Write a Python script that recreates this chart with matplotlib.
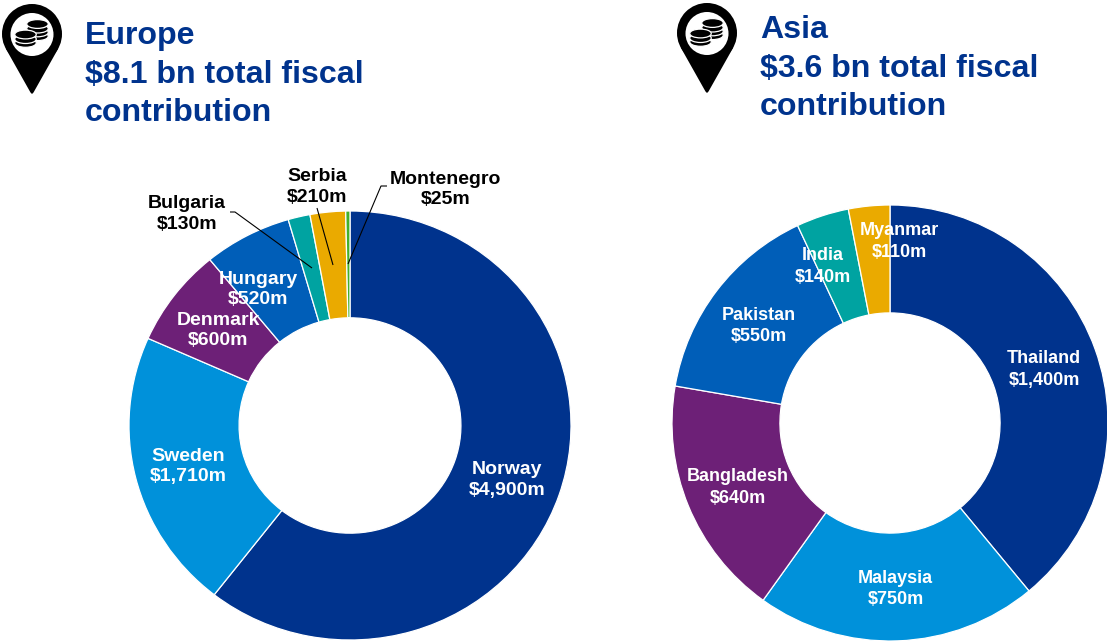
import matplotlib
matplotlib.use("Agg")
import matplotlib.pyplot as plt
from matplotlib.patches import Circle, Ellipse, Polygon

plt.rcParams['font.family'] = ['Liberation Sans', 'DejaVu Sans']

W, H = 1107, 641

# Data
europe_names = ["Norway", "Sweden", "Denmark", "Hungary", "Bulgaria", "Serbia", "Montenegro"]
europe_values = [4900, 1710, 600, 520, 130, 210, 25]
asia_names = ["Thailand", "Malaysia", "Bangladesh", "Pakistan", "India", "Myanmar"]
asia_values = [1400, 750, 640, 550, 140, 110]
europe_title = "Europe\n$8.1 bn total fiscal\ncontribution"
asia_title = "Asia\n$3.6 bn total fiscal\ncontribution"

# Styles and positions
europe_colors = ["#00338D", "#0091DA", "#6D2077", "#005EB8", "#00A3A1", "#EAAA00", "#43B02A"]
asia_colors = ["#00338D", "#0091DA", "#6D2077", "#005EB8", "#00A3A1", "#EAAA00"]
europe_label_xy = [(507, 480), (188.5, 466.5), (218, 330.5), (258, 289.5), (187, 214), (317, 187), (445.5, 189.5)]
europe_label_color = ["white", "white", "white", "white", "black", "black", "black"]
asia_label_xy = [(1044, 369.5), (895.5, 589), (738, 487.5), (759, 326), (823, 266.5), (899, 241.5)]
leaders = [
    [(230, 212), (235, 212), (312, 268)],
    [(317, 208), (333, 265)],
    [(387, 186), (381, 186), (348, 264)],
]

fig = plt.figure(figsize=(W / 100, H / 100), dpi=100, facecolor="white")


def donut(values, colors, x0, x1, y0, y1, hole):
    pad = 1.03
    cx, cy = (x0 + x1) / 2, (y0 + y1) / 2
    rx, ry = (x1 - x0) / 2 * pad, (y1 - y0) / 2 * pad
    ax = fig.add_axes([(cx - rx) / W, 1 - (cy + ry) / H, 2 * rx / W, 2 * ry / H])
    ax.pie(values, colors=colors, startangle=90, counterclock=False, radius=1,
           wedgeprops=dict(width=1 - hole, edgecolor="white", linewidth=0.9))
    ax.set_aspect("auto")
    ax.set_xlim(-pad, pad)
    ax.set_ylim(-pad, pad)
    ax.axis("off")
    return ax


donut(europe_values, europe_colors, 129, 571, 211, 640, 0.502)
donut(asia_values, asia_colors, 672, 1108, 205, 641, 0.505)

ov = fig.add_axes([0, 0, 1, 1], facecolor="none")
ov.set_xlim(0, W)
ov.set_ylim(H, 0)
ov.axis("off")


def pin(dx, dy):
    ov.add_patch(Circle((32 + dx, 34 + dy), 30, fc="black", ec="none"))
    ov.add_patch(Polygon([(6 + dx, 49 + dy), (58 + dx, 49 + dy), (33.5 + dx, 92.5 + dy),
                          (32 + dx, 94 + dy), (30.5 + dx, 92.5 + dy)], fc="black", ec="none"))
    ov.add_patch(Circle((32 + dx, 34.5 + dy), 21.5, fc="white", ec="none"))
    for cx, top, n in ((37.5, 24, 3), (25.5, 34.5, 2)):
        for i in range(n, -1, -1):
            y = top + i * 3.8 + (0.8 if i else 0)
            ov.add_patch(Ellipse((cx + dx, y + dy), 21.5, 8.8, fc="black", ec="white", lw=0.9, zorder=3))


pin(0, 0)
pin(675, -1)

title_color = "#00338D"
ov.text(85, 74.5, europe_title, color=title_color, fontsize=23.1, fontweight="bold",
        ha="left", va="center", linespacing=1.37)
ov.text(760, 68.5, asia_title, color=title_color, fontsize=23.1, fontweight="bold",
        ha="left", va="center", linespacing=1.37)

for pts in leaders:
    xs, ys = zip(*pts)
    ov.plot(xs, ys, color="black", lw=0.8, zorder=4, solid_capstyle="butt")

for n, v, xy, c in zip(europe_names, europe_values, europe_label_xy, europe_label_color):
    ov.text(xy[0], xy[1], f"{n}\n${v:,}m", color=c, fontsize=14.0, fontweight="bold",
            ha="center", va="center", multialignment="center", linespacing=1.3, zorder=5)
for n, v, xy in zip(asia_names, asia_values, asia_label_xy):
    ov.text(xy[0], xy[1], f"{n}\n${v:,}m", color="white", fontsize=13.0, fontweight="bold",
            ha="center", va="center", multialignment="center", linespacing=1.32, zorder=5)

fig.savefig("out.png", dpi=100, facecolor="white")
